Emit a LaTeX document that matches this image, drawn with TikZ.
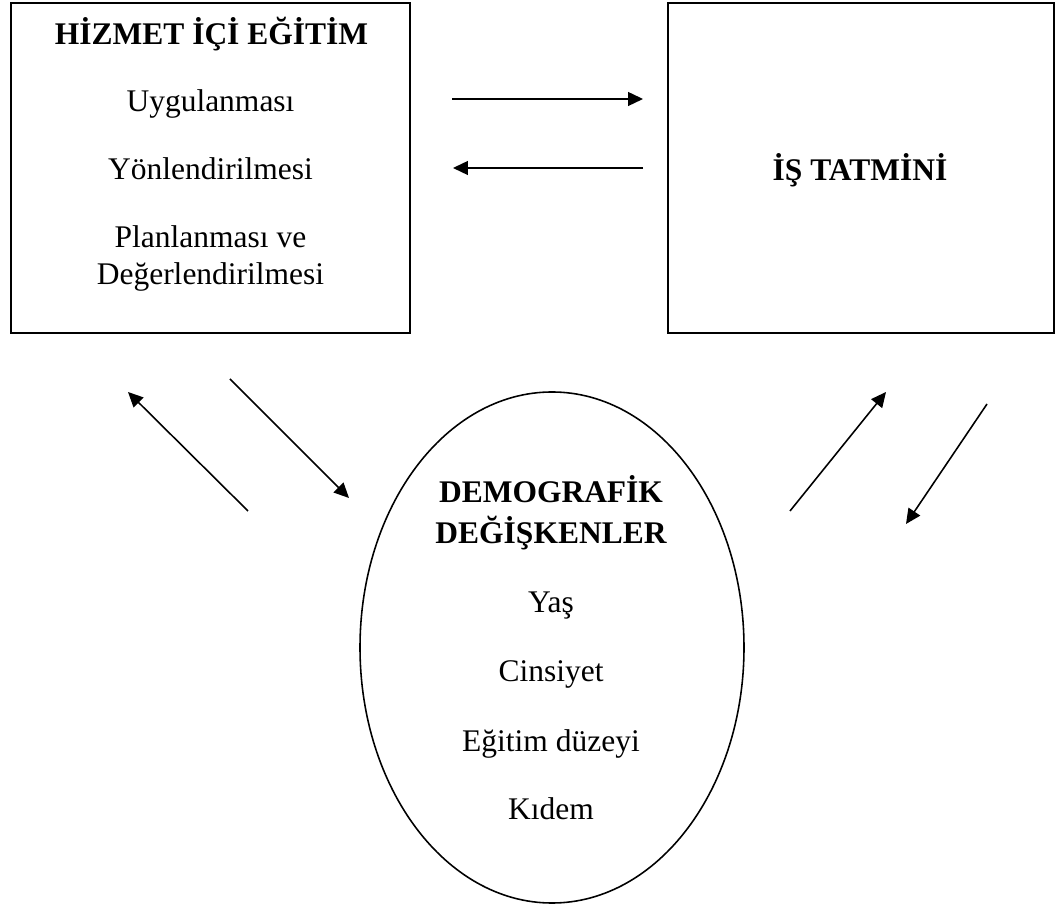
\documentclass[tikz,border=0pt]{standalone}
\usepackage{fontspec}
\setmainfont{Liberation Serif}
\usetikzlibrary{arrows.meta,shapes.geometric}

\tikzset{
	kutu/.style={draw, line width=0.8pt, inner sep=0pt},
	yazi/.style={anchor=base, inner sep=0pt, font=\fontsize{12pt}{14pt}\selectfont},
	baslik/.style={yazi, font=\fontsize{12pt}{14pt}\selectfont\bfseries},
	ok/.style={-{Triangle[length=5.7pt,width=5.3pt]}, line width=0.6pt}
}

\begin{document}
\begin{tikzpicture}[x=0.381pt,y=-0.381pt]
			\useasboundingbox (0,0) rectangle (1055,905);

			% kutular ve elips
			\node(hizmet) [kutu, minimum width=152pt, minimum height=125.7pt] at (210.5,168) {};
			\node(tatmin) [kutu, minimum width=147.1pt, minimum height=125.7pt] at (861,168) {};
			\node(demog) [draw, line width=0.6pt, ellipse, inner sep=0pt,
				minimum width=146.3pt, minimum height=194.7pt] at (552,647.5) {};

			% yazilar
			\node(h0) [baslik] at (211.5,45) {HİZMET İÇİ EĞİTİM};
			\node(h1) [yazi] at (210.5,112) {Uygulanması};
			\node(h2) [yazi] at (210.5,180) {Yönlendirilmesi};
			\node(h3) [yazi] at (210.5,248) {Planlanması ve};
			\node(h4) [yazi] at (210.5,285) {Değerlendirilmesi};

			\node(t0) [baslik] at (860,181) {İŞ TATMİNİ};

			\node(d0) [baslik] at (551,503) {DEMOGRAFİK};
			\node(d1) [baslik] at (551,544) {DEĞİŞKENLER};
			\node(d2) [yazi] at (551,613) {Yaş};
			\node(d3) [yazi] at (551,682) {Cinsiyet};
			\node(d4) [yazi] at (551,752) {Eğitim düzeyi};
			\node(d5) [yazi] at (551,820) {Kıdem};

			% oklar
			\coordinate(a1) at (452,99);
			\coordinate(b1) at (643,99);
			\coordinate(a2) at (643,168);
			\coordinate(b2) at (453,168);
			\coordinate(a3) at (248,511);
			\coordinate(b3) at (128,392);
			\coordinate(a4) at (230,379);
			\coordinate(b4) at (349,498);
			\coordinate(a5) at (790,511);
			\coordinate(b5) at (886,392);
			\coordinate(a6) at (987,404);
			\coordinate(b6) at (906,524);

			\draw[ok](a1) -- (b1);
			\draw[ok](a2) -- (b2);
			\draw[ok](a3) -- (b3);
			\draw[ok](a4) -- (b4);
			\draw[ok](a5) -- (b5);
			\draw[ok](a6) -- (b6);
		\end{tikzpicture}
\end{document}
